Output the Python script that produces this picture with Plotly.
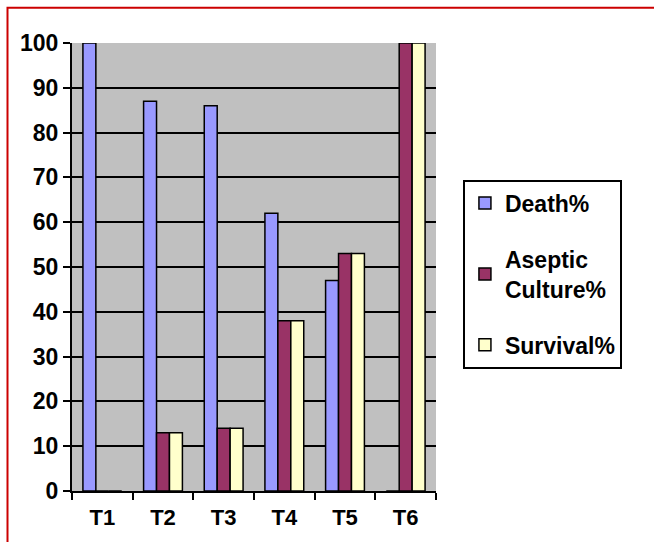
import plotly.graph_objects as go

categories = ["T1", "T2", "T3", "T4", "T5", "T6"]
death = [100, 87, 86, 62, 47, 0]
aseptic = [0, 13, 14, 38, 53, 100]
survival = [0, 13, 14, 38, 53, 100]
y_ticks = [0, 10, 20, 30, 40, 50, 60, 70, 80, 90, 100]

FONT = "Liberation Sans, Arial, sans-serif"

fig = go.Figure()
fig.add_trace(go.Bar(x=categories, y=death, name="Death%",
                     marker=dict(color="#9999FF", line=dict(color="black", width=1.5)),
                     legendgroup="a"))
fig.add_trace(go.Bar(x=categories, y=aseptic, name="Aseptic<br>Culture%",
                     marker=dict(color="#993366", line=dict(color="black", width=1.5)),
                     legendgroup="b"))
fig.add_trace(go.Bar(x=categories, y=survival, name="Survival%",
                     marker=dict(color="#FFFFCC", line=dict(color="black", width=1.5)),
                     legendgroup="c"))

fig.update_layout(
    width=654, height=542,
    margin=dict(l=72, r=218, t=43, b=48),
    paper_bgcolor="white",
    plot_bgcolor="#C0C0C0",
    barmode="group",
    bargap=0.36,
    bargroupgap=0,
    font=dict(family=FONT, size=22, color="black"),
    showlegend=True,
    legend=dict(
        x=1.074, y=0.695, xanchor="left", yanchor="top",
        bgcolor="white", bordercolor="black", borderwidth=2,
        font=dict(family=FONT, size=23, color="black", weight="bold"),
        tracegroupgap=23,
        traceorder="grouped",
        itemwidth=30,
    ),
    xaxis=dict(
        showline=True, linecolor="black", linewidth=2,
        ticks="outside", tickson="boundaries", ticklen=7, tickwidth=2, tickcolor="black",
        tickfont=dict(family=FONT, size=22, color="black", weight="bold"),
        ticklabelstandoff=6,
        showgrid=False,
    ),
    yaxis=dict(
        range=[0, 100], tickvals=y_ticks,
        showline=True, linecolor="black", linewidth=2,
        ticks="outside", ticklen=7, tickwidth=2, tickcolor="black",
        tickfont=dict(family=FONT, size=23, color="black", weight="bold"),
        showgrid=True, gridcolor="black", gridwidth=2,
        zeroline=False,
    ),
    shapes=[
        dict(type="rect", xref="paper", yref="paper",
             x0=(7.5 - 72) / 364, x1=2.5, y0=-0.5, y1=(494 - 7.5) / 451,
             line=dict(color="#CC0000", width=2), fillcolor="rgba(0,0,0,0)", layer="below"),
    ],
)

fig.write_html("out.html", config={"displayModeBar": False},
               post_script="document.body.style.margin='0';")
